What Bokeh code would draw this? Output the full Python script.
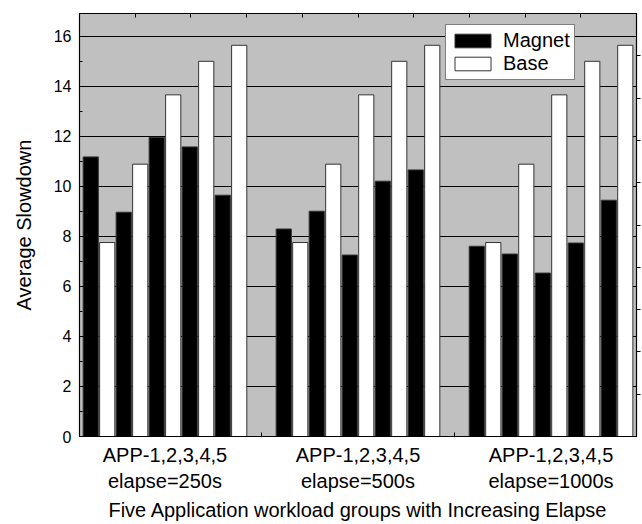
from bokeh.plotting import figure
from bokeh.models import Range1d, FixedTicker, LinearAxis, Legend, LegendItem
from bokeh.embed import file_html
from bokeh.resources import INLINE

groups = ["APP-1,2,3,4,5\nelapse=250s", "APP-1,2,3,4,5\nelapse=500s", "APP-1,2,3,4,5\nelapse=1000s"]
magnet = [
    [11.17, 8.96, 11.95, 11.57, 9.64],
    [8.29, 9.00, 7.25, 10.20, 10.65],
    [7.60, 7.29, 6.53, 7.73, 9.44],
]
base = [
    [7.75, 10.88, 13.65, 14.99, 15.63],
    [7.75, 10.88, 13.65, 14.99, 15.63],
    [7.75, 10.88, 13.65, 14.99, 15.63],
]
y_ticks = [0, 2, 4, 6, 8, 10, 12, 14, 16]

FONT = "Liberation Sans"
GAP = 1.7          # gap between groups, in bar widths
GROUP_W = 10 + GAP
x0, x1 = -0.18, 2 * GROUP_W + 10 + 0.18
y0, y1 = 0, 16.9

mx, my, bx, by = [], [], [], []
for g in range(3):
    for i in range(5):
        mx.append(g * GROUP_W + 2 * i + 0.5)
        my.append(magnet[g][i])
        bx.append(g * GROUP_W + 2 * i + 1.5)
        by.append(base[g][i])

p = figure(width=642, height=524, output_backend="svg", toolbar_location=None,
           x_range=Range1d(x0, x1), y_range=Range1d(y0, y1),
           min_border_left=79, min_border_right=6, min_border_top=13, min_border_bottom=88)
p.background_fill_color = "#c0c0c0"
p.border_fill_color = "white"
p.outline_line_color = "black"
p.outline_line_width = 1.2

p.xgrid.visible = False
p.ygrid.grid_line_color = "black"
p.ygrid.grid_line_width = 1
p.ygrid.ticker = FixedTicker(ticks=y_ticks)

rm = p.vbar(x=mx, top=my, bottom=0, width=0.92, fill_color="black", line_color="#333333", line_width=1)
rb = p.vbar(x=bx, top=by, bottom=0, width=0.92, fill_color="white", line_color="#333333", line_width=1)

# left axis
ya = p.yaxis[0]
ya.ticker = FixedTicker(ticks=y_ticks, minor_ticks=list(range(0, 17)))
ya.major_tick_in = 5
ya.major_tick_out = 0
ya.minor_tick_in = 3
ya.minor_tick_out = 0
ya.major_label_text_font = FONT
ya.major_label_text_font_size = "16px"
ya.major_label_text_color = "black"
ya.major_label_standoff = 8
ya.axis_label = "Average Slowdown"
ya.axis_label_text_font = FONT
ya.axis_label_text_font_size = "20px"
ya.axis_label_text_font_style = "normal"
ya.axis_label_text_color = "black"
ya.axis_label_standoff = 16
ya.axis_line_color = "black"

# bottom axis
xa = p.xaxis[0]
centers = [g * GROUP_W + 5 for g in range(3)]
separators = [g * GROUP_W + 10 + GAP / 2 for g in range(2)]
xa.ticker = FixedTicker(ticks=centers, minor_ticks=separators)
xa.major_label_overrides = {c: lab for c, lab in zip(centers, groups)}
xa.major_tick_in = 0
xa.major_tick_out = 0
xa.minor_tick_in = 4
xa.minor_tick_out = 0
xa.minor_tick_line_color = "black"
xa.major_label_text_font = FONT
xa.major_label_text_font_size = "20px"
xa.major_label_text_color = "black"
xa.major_label_standoff = 7
xa.axis_label = "Five Application workload groups with Increasing Elapse"
xa.axis_label_text_font = FONT
xa.axis_label_text_font_size = "20px"
xa.axis_label_text_font_style = "normal"
xa.axis_label_text_color = "black"
xa.axis_label_standoff = 4
xa.axis_line_color = "black"

# top and right axes (minor ticks only, 10 equal divisions)
top_ticks = [x0 + (x1 - x0) * k / 10 for k in range(1, 10)]
right_ticks = [y0 + (y1 - y0) * k / 10 for k in range(1, 10)]
ta = LinearAxis(ticker=FixedTicker(ticks=[], minor_ticks=top_ticks),
                major_tick_line_color=None, minor_tick_in=4, minor_tick_out=0,
                minor_tick_line_color="black", axis_line_color="black",
                major_label_standoff=0)
ra = LinearAxis(ticker=FixedTicker(ticks=[], minor_ticks=right_ticks),
                major_tick_line_color=None, minor_tick_in=0, minor_tick_out=4,
                minor_tick_line_color="black", axis_line_color="black",
                major_label_standoff=0)
p.add_layout(ta, "above")
p.add_layout(ra, "right")

legend = Legend(items=[LegendItem(label="Magnet", renderers=[rm]),
                       LegendItem(label="Base", renderers=[rb])],
                location=(366, 356))
legend.label_text_font = FONT
legend.label_text_font_size = "20px"
legend.label_text_color = "black"
legend.glyph_width = 45
legend.glyph_height = 17
legend.label_height = 20
legend.spacing = 0
legend.padding = 4
legend.margin = 0
legend.label_standoff = 8
legend.border_line_color = "black"
legend.border_line_width = 1
legend.background_fill_color = "white"
legend.background_fill_alpha = 1
p.add_layout(legend)

open("out.html", "w").write(file_html(p, INLINE))
